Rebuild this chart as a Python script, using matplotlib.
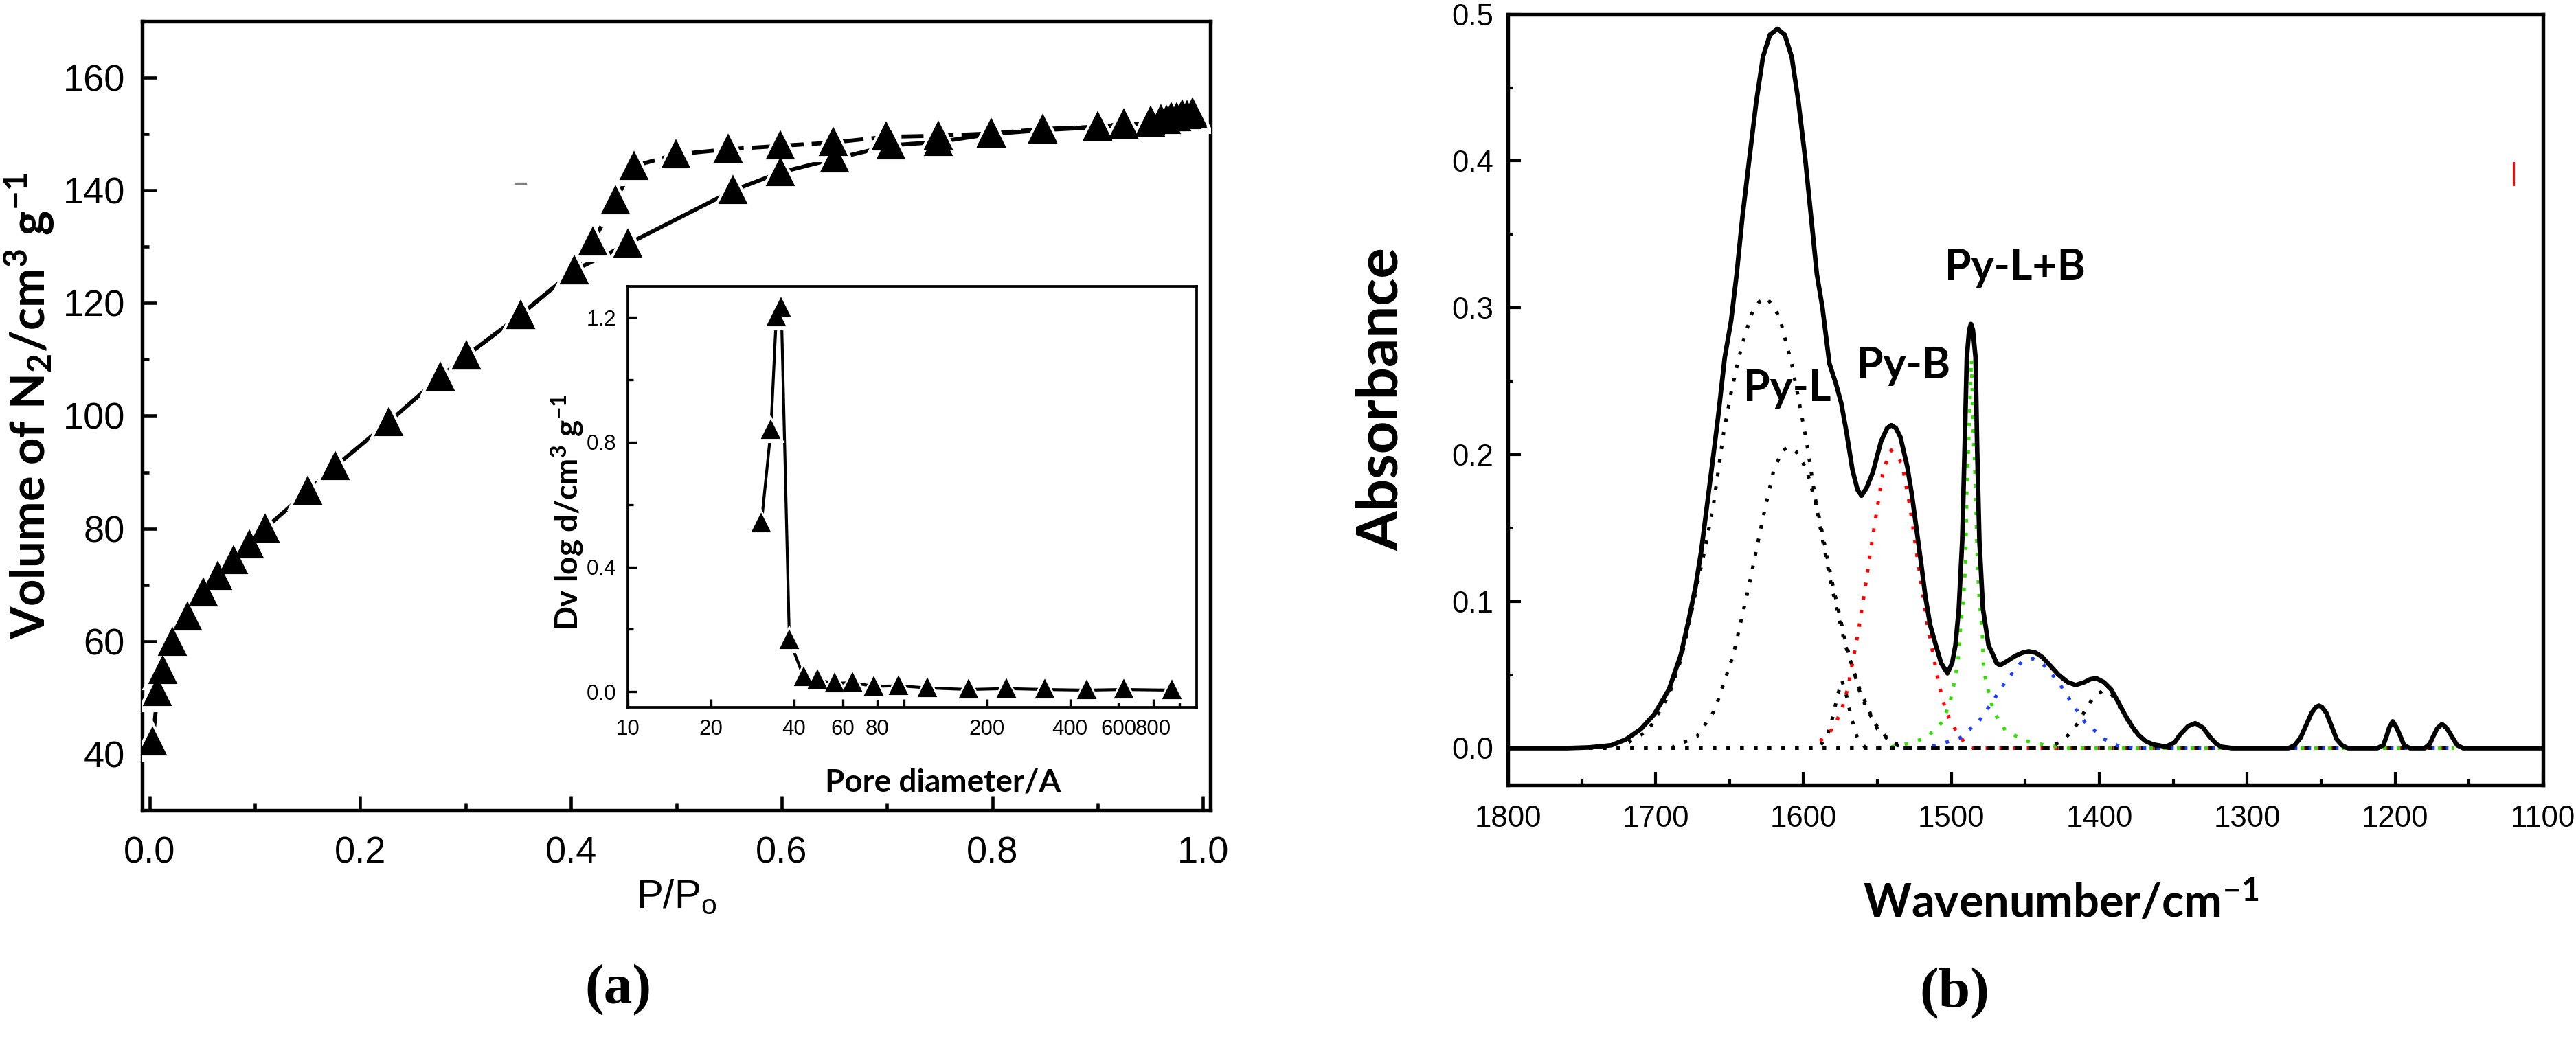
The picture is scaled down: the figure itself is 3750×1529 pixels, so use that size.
import matplotlib
matplotlib.use('Agg')
import matplotlib.pyplot as plt
from matplotlib.ticker import MultipleLocator, FormatStrFormatter, NullLocator

plt.rcParams['font.family'] = ['Liberation Sans', 'DejaVu Sans']
plt.rcParams['mathtext.default'] = 'regular'

# ---- (a) N2 adsorption / desorption isotherm ----
p_ads = [0.003, 0.0076, 0.0125, 0.022, 0.036, 0.051, 0.065, 0.0795, 0.095, 0.1095,
         0.150, 0.176, 0.227, 0.276, 0.301, 0.352, 0.403, 0.454, 0.554, 0.599,
         0.650, 0.704, 0.749, 0.799, 0.848, 0.900, 0.925, 0.950, 0.965, 0.975,
         0.985, 0.990]
v_ads = [42.2, 50.9, 54.8, 59.9, 64.4, 68.6, 71.6, 74.4, 77.2, 80.0,
         86.6, 91.0, 98.9, 106.9, 110.7, 117.9, 125.8, 130.5, 140.0, 143.2,
         145.6, 148.0, 148.6, 150.0, 150.7, 151.2, 151.6, 152.0, 152.5, 153.0,
         153.3, 153.6]
p_des = [0.990, 0.980, 0.970, 0.960, 0.950, 0.925, 0.900, 0.848, 0.799, 0.749,
         0.699, 0.649, 0.599, 0.549, 0.4997, 0.4596, 0.442, 0.421, 0.403, 0.352,
         0.301]
v_des = [153.8, 153.4, 153.0, 152.6, 152.3, 151.8, 151.3, 150.9, 150.1, 149.7,
         149.5, 148.5, 147.9, 147.3, 146.4, 144.3, 138.2, 130.9, 125.8, 117.9,
         110.7]

# inset: pore size distribution
d_pore = [30.5, 33.0, 34.5, 36.0, 38.5, 43.4, 48.7, 56.3, 65.3, 78, 95.8,
          122, 172, 235, 324, 459, 626, 935]
dv_pore = [0.541, 0.839, 1.20, 1.232, 0.166, 0.047, 0.037, 0.027, 0.029, 0.017,
           0.019, 0.012, 0.007, 0.010, 0.007, 0.005, 0.007, 0.005]

# ---- (b) pyridine FTIR spectrum ----
wn = [1800, 1760, 1745, 1730, 1720, 1710, 1701, 1691, 1683, 1677.7,
      1673, 1669.2, 1665.3, 1661.4, 1657.6, 1653.3, 1649, 1645.2, 1641.3, 1636.7,
      1632, 1627.4, 1622.7, 1617.6, 1612.7, 1608, 1603.4, 1598.8, 1594.9, 1591,
      1587.2, 1582.5, 1578, 1574.5, 1570.9, 1567, 1563.5, 1560.8, 1557.5, 1553.1,
      1547.6, 1543.5, 1540.7, 1537.5, 1534.5, 1529.8, 1526.8, 1523.6, 1520.5, 1517.5,
      1514.4, 1510.5, 1507, 1502.7, 1499.5, 1497.3, 1495, 1492.7, 1491.1, 1489.6,
      1488, 1486.8, 1485.5, 1483.7, 1482.6, 1481.1, 1478.7, 1474.9, 1472.5, 1469.5,
      1467.1, 1462, 1457.1, 1452, 1447.8, 1443, 1438.5, 1433, 1427.6, 1421.5,
      1416, 1410, 1406, 1402.1, 1397, 1392, 1387, 1382.8, 1378, 1373.5,
      1369, 1364.2, 1355, 1349, 1345.6, 1340, 1335.1, 1330, 1325.5, 1321,
      1317.7, 1310, 1272, 1268, 1264, 1260, 1256.5, 1253.5, 1251.5, 1249.5,
      1246.5, 1243, 1239.5, 1236, 1232, 1212, 1208, 1206, 1204, 1201.6,
      1199, 1196.2, 1194, 1190, 1180, 1176.5, 1174.5, 1171.5, 1168.3, 1165,
      1161.4, 1158, 1154, 1100]
absb = [0.0, 0.0, 0.0005, 0.002, 0.006, 0.013, 0.023, 0.040, 0.0635, 0.087,
        0.110, 0.134, 0.165, 0.196, 0.227, 0.266, 0.291, 0.323, 0.362, 0.401,
        0.440, 0.471, 0.486, 0.490, 0.486, 0.471, 0.440, 0.401, 0.362, 0.323,
        0.300, 0.262, 0.248, 0.235, 0.215, 0.190, 0.176, 0.172, 0.177, 0.188,
        0.209, 0.218, 0.220, 0.218, 0.212, 0.1915, 0.173, 0.149, 0.126, 0.1025,
        0.084, 0.070, 0.058, 0.051, 0.058, 0.070, 0.095, 0.1415, 0.204, 0.266,
        0.285, 0.289, 0.285, 0.266, 0.204, 0.1415, 0.095, 0.070, 0.065, 0.058,
        0.0565, 0.0595, 0.0627, 0.065, 0.066, 0.065, 0.062, 0.056, 0.050, 0.045,
        0.043, 0.045, 0.047, 0.0476, 0.045, 0.040, 0.031, 0.023, 0.015, 0.009,
        0.005, 0.0027, 0.001, 0.004, 0.009, 0.015, 0.017, 0.014, 0.008, 0.003,
        0.001, 0.0, 0.0, 0.002, 0.007, 0.016, 0.024, 0.028, 0.029, 0.028,
        0.024, 0.015, 0.006, 0.002, 0.0, 0.0, 0.002, 0.0075, 0.014, 0.0183,
        0.014, 0.0075, 0.002, 0.0, 0.0, 0.003, 0.0075, 0.0135, 0.0164, 0.0135,
        0.0075, 0.002, 0.0, 0.0]

# fitted components (dotted)
c1_wn = [1745, 1725, 1705, 1691, 1683, 1677.7, 1673, 1667, 1661, 1654, 1649, 1644,
         1640, 1635, 1630, 1625, 1620, 1616, 1612, 1608, 1603, 1598, 1590, 1581,
         1572, 1562, 1552, 1542, 1530, 1160]
c1_a = [0.0, 0.0, 0.012, 0.036, 0.060, 0.083, 0.106, 0.134, 0.165, 0.215, 0.242, 0.265,
        0.280, 0.296, 0.304, 0.307, 0.300, 0.293, 0.277, 0.262, 0.236, 0.209, 0.157, 0.110,
        0.071, 0.040, 0.017, 0.005, 0.0, 0.0]
c2_wn = [1745, 1690, 1672, 1660, 1647.5, 1637, 1627.4, 1620, 1614, 1610, 1605, 1598,
         1590, 1580, 1571, 1561, 1550, 1540, 1530, 1160]
c2_a = [0.0, 0.0, 0.008, 0.026, 0.0635, 0.110, 0.157, 0.190, 0.203, 0.205, 0.202, 0.190,
        0.160, 0.110, 0.070, 0.035, 0.013, 0.003, 0.0, 0.0]
c3_wn = [1745, 1590, 1584, 1580, 1577, 1574, 1571, 1568, 1564, 1558, 1160]
c3_a = [0.0, 0.0, 0.008, 0.022, 0.036, 0.046, 0.036, 0.022, 0.008, 0.0, 0.0]
cb_wn = [1745, 1595, 1591.5, 1579.5, 1574, 1570, 1562.7, 1558.5, 1554.6, 1550.4, 1546,
         1540.7, 1533.4, 1528.3, 1524.4, 1520.5, 1516.4, 1512, 1508.8, 1505, 1500.8,
         1491.4, 1485, 1160]
cb_a = [0.0, 0.0, 0.002, 0.014, 0.027, 0.041, 0.081, 0.108, 0.135, 0.162, 0.190,
        0.203, 0.194, 0.166, 0.139, 0.112, 0.085, 0.062, 0.045, 0.030, 0.018,
        0.004, 0.0, 0.0]
clb_wn = [1745, 1545, 1530, 1517, 1506, 1501, 1498, 1495.5, 1493.5, 1492, 1490.4, 1489.6,
          1488, 1486.5, 1485.2, 1484.1, 1482.6, 1481.5, 1479.2, 1478.1, 1475, 1471.5,
          1463.5, 1450, 1436, 1420, 1160]
clb_a = [0.0, 0.0, 0.003, 0.007, 0.018, 0.031, 0.045, 0.060, 0.086, 0.099, 0.126, 0.173,
         0.220, 0.265, 0.216, 0.188, 0.133, 0.106, 0.079, 0.0525, 0.039, 0.025,
         0.012, 0.005, 0.002, 0.0, 0.0]
cbl_wn = [1745, 1520, 1510, 1494, 1481, 1472, 1463, 1452.4, 1445, 1438.8, 1427.6, 1418.8,
          1409.5, 1396.4, 1386, 1375, 1160]
cbl_a = [0.0, 0.0, 0.002, 0.007, 0.019, 0.032, 0.046, 0.059, 0.061, 0.058, 0.045, 0.031,
         0.0175, 0.006, 0.001, 0.0, 0.0]
c4_wn = [1745, 1435, 1425, 1418, 1413, 1409, 1403.6, 1398, 1392, 1388, 1383, 1374, 1364,
         1355, 1160]
c4_a = [0.0, 0.0, 0.005, 0.012, 0.0195, 0.027, 0.035, 0.039, 0.037, 0.031, 0.022, 0.008,
        0.002, 0.0, 0.0]

fig = plt.figure(figsize=(12.5, 1529 / 300), dpi=300)

# ---------------- panel (a) ----------------
ax1 = fig.add_axes([0.0552, 0.2283, 0.4147, 0.7514])
ax1.plot(p_ads, v_ads, color='k', lw=1.4, zorder=2)
ax1.plot(p_des, v_des, color='k', lw=1.4, ls=(0, (5.5, 2)), zorder=2)
for p, v in [(p_ads, v_ads), (p_des, v_des)]:
    ax1.plot(p, v, ls='none', marker='^', ms=13, mfc='white', mec='white', zorder=3)
for p, v in [(p_ads, v_ads), (p_des, v_des)]:
    ax1.plot(p, v, ls='none', marker='^', ms=8.5, mfc='k', mec='k', zorder=4)
ax1.plot([0.347, 0.357], [141.2, 141.2], color='0.5', lw=0.8)
ax1.set_xlim(-0.007, 1.007)
ax1.set_ylim(30, 170)
ax1.set_yticks([40, 60, 80, 100, 120, 140, 160])
ax1.xaxis.set_major_locator(MultipleLocator(0.2))
ax1.xaxis.set_minor_locator(MultipleLocator(0.1))
ax1.yaxis.set_minor_locator(MultipleLocator(10))
ax1.xaxis.set_major_formatter(FormatStrFormatter('%.1f'))
ax1.tick_params(which='both', direction='in', top=False, right=False, width=1.1)
ax1.tick_params(which='major', length=5, labelsize=13, pad=6)
ax1.tick_params(axis='x', which='major', pad=9)
ax1.tick_params(which='minor', length=2.5)
for s in ax1.spines.values():
    s.set_linewidth(1.3)

fig.text(0.0115, 0.6135, 'Volume of N$_2$/cm$^3$ g$^{-1}$', rotation=90,
         ha='center', va='center', fontsize=16.5, fontweight='bold', family='Lato')
fig.text(0.2627, 0.145, 'P/P$_o$', ha='center', va='center', fontsize=14)
fig.text(0.2400, 0.057, '(a)', ha='center', va='center', fontsize=20,
         fontweight='bold', family='Liberation Serif')

# inset
axi = fig.add_axes([0.2437, 0.3264, 0.2208, 0.4009])
axi.set_xscale('log')
axi.plot(d_pore, dv_pore, color='k', lw=1.0, zorder=2)
axi.plot(d_pore, dv_pore, ls='none', marker='^', ms=8, mfc='white', mec='white', zorder=3)
axi.plot(d_pore, dv_pore, ls='none', marker='^', ms=5.5, mfc='k', mec='k', zorder=4)
axi.set_xlim(10, 1150)
axi.set_ylim(-0.05, 1.3)
xt = [10, 20, 40, 60, 80, 100, 200, 400, 600, 800, 1000]
axi.set_xticks(xt)
axi.set_xticklabels(['' if t in (100, 1000) else str(t) for t in xt])
axi.xaxis.set_minor_locator(NullLocator())
axi.set_yticks([0.0, 0.4, 0.8, 1.2])
axi.yaxis.set_minor_locator(MultipleLocator(0.2))
axi.yaxis.set_major_formatter(FormatStrFormatter('%.1f'))
axi.tick_params(which='both', direction='in', top=False, right=False, width=0.8)
axi.tick_params(which='major', length=3, labelsize=7.5, pad=4)
axi.tick_params(which='minor', length=2)
for s in axi.spines.values():
    s.set_linewidth(0.9)
fig.text(0.2203, 0.512, 'Dv log d/cm$^3$ g$^{-1}$', rotation=90, ha='center',
         va='center', fontsize=11, fontweight='bold', family='Lato')
fig.text(0.366, 0.255, 'Pore diameter/A', ha='center', va='center', fontsize=11,
         fontweight='bold', family='Lato')

# ---------------- panel (b) ----------------
ax2 = fig.add_axes([0.5853, 0.2525, 0.4019, 0.734])
comps = [(c1_wn, c1_a, 'k'), (c2_wn, c2_a, 'k'), (c3_wn, c3_a, 'k'),
         (cb_wn, cb_a, 'red'), (clb_wn, clb_a, '#33dd00'), (cbl_wn, cbl_a, '#1f3fff'),
         (c4_wn, c4_a, 'k')]
for x, y, c in comps:
    ax2.plot(x, y, color=c, lw=1.2, ls=(0, (1, 3)), zorder=2)
ax2.plot(wn, absb, color='k', lw=1.6, solid_joinstyle='round', zorder=3)
ax2.plot([1120, 1120], [0.384, 0.399], color='red', lw=0.7)
ax2.set_xlim(1800, 1100)
ax2.set_ylim(-0.025, 0.5)
ax2.xaxis.set_major_locator(MultipleLocator(100))
ax2.xaxis.set_minor_locator(MultipleLocator(50))
ax2.yaxis.set_major_locator(MultipleLocator(0.1))
ax2.yaxis.set_minor_locator(MultipleLocator(0.05))
ax2.yaxis.set_major_formatter(FormatStrFormatter('%.1f'))
ax2.tick_params(which='both', direction='in', top=False, right=False, width=1.0)
ax2.tick_params(which='major', length=4.5, labelsize=10.5, pad=5)
ax2.tick_params(axis='x', which='major', pad=7)
ax2.tick_params(which='minor', length=2)
for s in ax2.spines.values():
    s.set_linewidth(1.3)

lab = dict(fontsize=15, fontweight='bold', family='Lato', va='baseline', ha='left')
ax2.text(1640.7, 0.2364, 'Py-L', **lab)
ax2.text(1563.9, 0.252, 'Py-B', **lab)
ax2.text(1504.4, 0.3188, 'Py-L+B', **lab)

fig.text(0.5365, 0.62, 'Absorbance', rotation=90, ha='center', va='center',
         fontsize=20, fontweight='bold', family='Lato')
fig.text(0.800, 0.140, 'Wavenumber/cm$^{-1}$', ha='center', va='center',
         fontsize=16, fontweight='bold', family='Lato')
fig.text(0.7587, 0.054, '(b)', ha='center', va='center', fontsize=20,
         fontweight='bold', family='Liberation Serif')

fig.savefig('out.png', dpi=300)
